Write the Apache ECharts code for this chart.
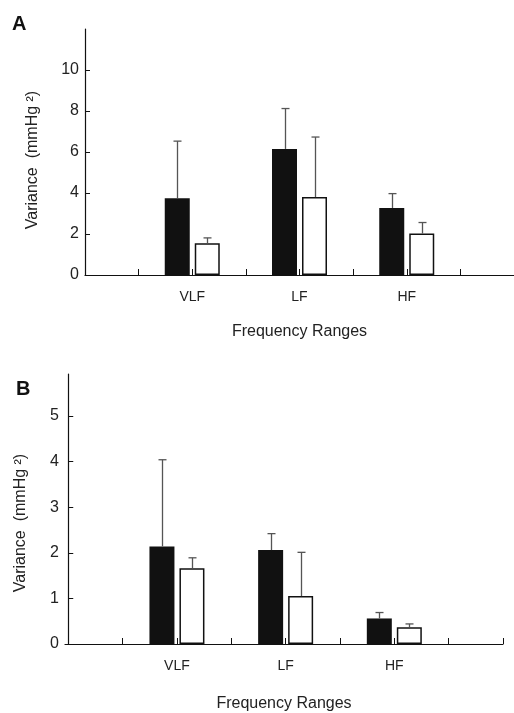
<!DOCTYPE html>
<html>
<head>
<meta charset="utf-8">
<style>
  html, body { margin: 0; padding: 0; background: #fff; }
  #chart { width: 514px; height: 713px; }
</style>
</head>
<body>
<div id="chart"></div>
<script src="https://cdn.jsdelivr.net/npm/echarts@6/dist/echarts.min.js"></script>
<script>
// frequency ranges, placed at x = 1, 2, 3
var categories = ['VLF', 'LF', 'HF'];

// panel A (black / white bars, error = upper whisker length)
var aBlack = [3.75, 6.15, 3.27];
var aBlackErr = [2.78, 1.97, 0.70];
var aWhite = [1.55, 3.80, 2.02];
var aWhiteErr = [0.26, 2.93, 0.54];

// panel B
var bBlack = [2.14, 2.06, 0.56];
var bBlackErr = [1.90, 0.36, 0.13];
var bWhite = [1.66, 1.05, 0.37];
var bWhiteErr = [0.23, 0.96, 0.07];

var font = 'Liberation Sans';
var txt = '#222';

function pts(vals) {
  return vals.map(function (v, i) { return [i + 1, v]; });
}
function errPts(vals, errs) {
  return vals.map(function (v, i) { return [i + 1, v, v + errs[i]]; });
}
// draw the whisker above a bar; offset moves it onto the left or right bar
function errRender(offset) {
  return function (params, api) {
    var p0 = api.coord([api.value(0), api.value(1)]);
    var p1 = api.coord([api.value(0), api.value(2)]);
    var cx = Math.round(p0[0] + offset) + 0.5;
    var st = { stroke: '#555', lineWidth: 1.3 };
    return {
      type: 'group',
      children: [
        { type: 'line', shape: { x1: cx, y1: p0[1], x2: cx, y2: p1[1] }, style: st },
        { type: 'line', shape: { x1: cx - 4, y1: p1[1], x2: cx + 4, y2: p1[1] }, style: st }
      ]
    };
  };
}

function xAxis(idx, min) {
  return {
    type: 'value', gridIndex: idx, min: min, max: 4,
    splitLine: { show: false },
    axisLine: { onZero: false, lineStyle: { color: '#111', width: 1.2 } },
    axisTick: { inside: true, length: 6, customValues: [0.5, 1, 1.5, 2, 2.5, 3, 3.5, 4],
      lineStyle: { color: '#111' } },
    axisLabel: { customValues: [1, 2, 3], margin: 15, fontFamily: font, fontSize: 14, color: txt,
      formatter: function (v) { return categories[Math.round(v) - 1] || ''; } },
    name: 'Frequency Ranges', nameLocation: 'middle', nameGap: idx ? 52 : 49,
    nameTextStyle: { fontFamily: font, fontSize: 16, color: txt }
  };
}
function yAxis(idx, max, interval, gap, pad) {
  return {
    type: 'value', gridIndex: idx, min: 0, max: max, interval: interval,
    splitLine: { show: false },
    axisLine: { show: true, lineStyle: { color: '#111', width: 1.2 } },
    axisTick: { show: true, inside: true, length: 5, lineStyle: { color: '#111' } },
    axisLabel: { margin: 6, fontFamily: font, fontSize: 16, color: txt, showMaxLabel: false },
    name: 'Variance  (mmHg \u00b2)', nameLocation: 'middle', nameRotate: 90, nameGap: gap,
    nameTextStyle: { fontFamily: font, fontSize: 16, color: txt, padding: pad }
  };
}
function barSeries(idx, vals, white) {
  return {
    type: 'bar', xAxisIndex: idx, yAxisIndex: idx, data: pts(vals),
    barWidth: 25, barGap: '20%',
    itemStyle: white ? { color: '#fff', borderColor: '#111', borderWidth: 1.5 } : { color: '#111' }
  };
}
function errSeries(idx, vals, errs, offset) {
  return {
    type: 'custom', xAxisIndex: idx, yAxisIndex: idx, z: 5,
    data: errPts(vals, errs), encode: { x: 0, y: [1, 2] },
    renderItem: errRender(offset)
  };
}

var chart = echarts.init(document.getElementById('chart'), null, { renderer: 'canvas' });
chart.setOption({
  backgroundColor: '#fff',
  animation: false,
  title: [
    { text: 'A', left: 7, top: 9, textStyle: { fontFamily: font, fontSize: 20, fontWeight: 'bold', color: '#111' } },
    { text: 'B', left: 11, top: 374, textStyle: { fontFamily: font, fontSize: 20, fontWeight: 'bold', color: '#111' } }
  ],
  grid: [
    { left: 85, top: 29, width: 429, height: 246 },
    { left: 65, top: 374, width: 438, height: 270 }
  ],
  xAxis: [xAxis(0, 0), xAxis(1, -0.03)],
  yAxis: [yAxis(0, 12, 2, 44, [0, 16, 0, 0]), yAxis(1, 5.92, 1, 36, [0, 28, 0, 0])],
  series: [
    barSeries(0, aBlack, false),
    barSeries(0, aWhite, true),
    errSeries(0, aBlack, aBlackErr, -15),
    errSeries(0, aWhite, aWhiteErr, 15),
    barSeries(1, bBlack, false),
    barSeries(1, bWhite, true),
    errSeries(1, bBlack, bBlackErr, -15),
    errSeries(1, bWhite, bWhiteErr, 15)
  ]
});
</script>
</body>
</html>
